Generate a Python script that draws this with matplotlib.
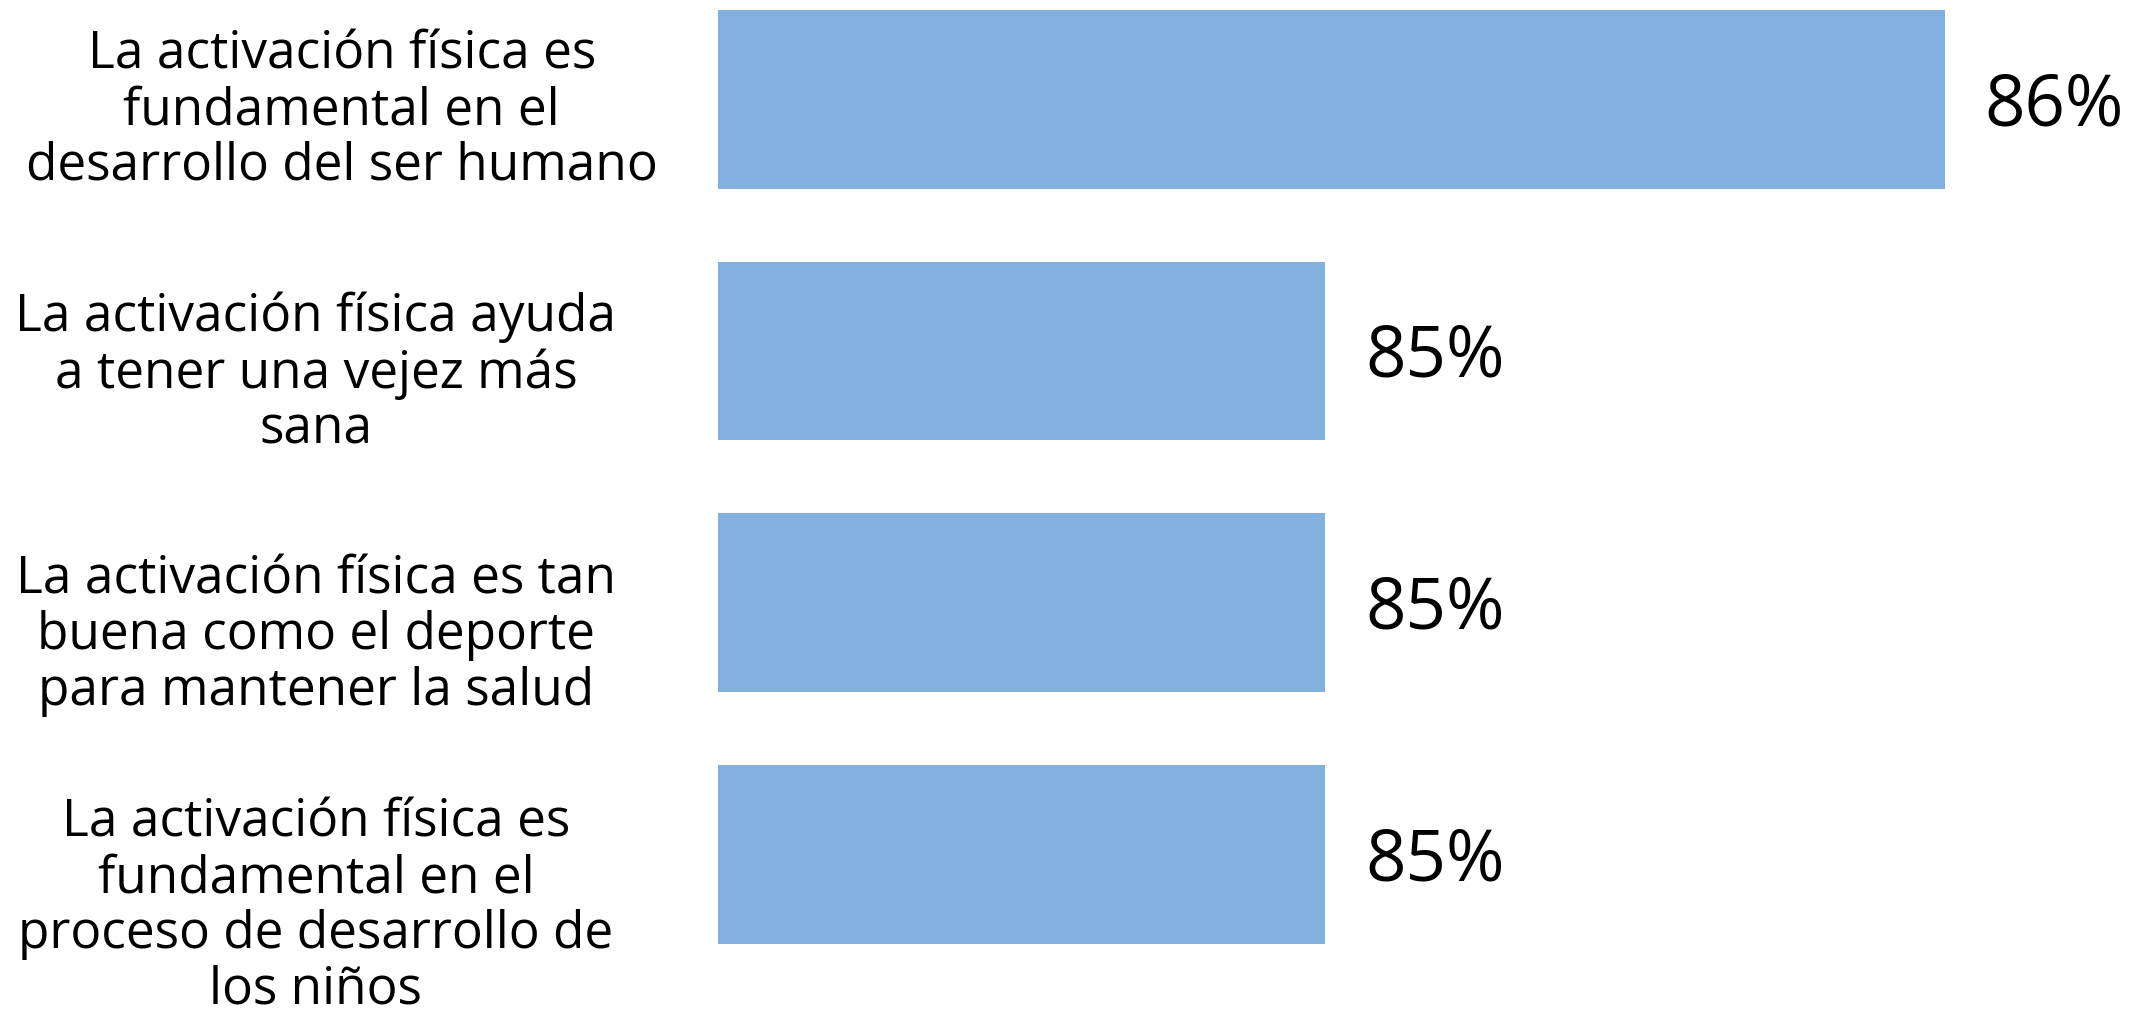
import matplotlib.pyplot as plt
from matplotlib.transforms import offset_copy

# Survey answers, top to bottom
statements = [
    "La activación física es\nfundamental en el\ndesarrollo del ser humano",
    "La activación física ayuda\na tener una vejez más\nsana",
    "La activación física es tan\nbuena como el deporte\npara mantener la salud",
    "La activación física es\nfundamental en el\nproceso de desarrollo de\nlos niños",
]
percent = [86, 85, 85, 85]

# where each statement block sits (figure fraction, measured from top)
label_x = [0.159, 0.147, 0.147, 0.147]
label_y = [0.109, 0.368, 0.626, 0.893]

plt.rcParams['font.family'] = ['Open Sans', 'DejaVu Sans']

fig = plt.figure(figsize=(21.49, 10.15), dpi=100)
ax = fig.add_axes([0.334, 0.0, 0.666, 1.0])

pos = list(range(len(percent)))
ax.barh(pos, [p - 84 for p in percent], left=84, height=0.71,
        color='#82b1df')

ax.set_xlim(84.02, 86.33)
ax.set_ylim(3.638, -0.395)
ax.axis('off')

# value labels just past the end of each bar
shifted = offset_copy(ax.transData, fig=fig, x=40, y=-7, units='dots')
for y, p in zip(pos, percent):
    ax.text(p, y, f"{p}%", transform=shifted, fontsize=51,
            va='center', ha='left', color='black')

# statement text in the left margin
for s, lx, ly in zip(statements, label_x, label_y):
    fig.text(lx, 1 - ly, s, fontsize=37, ha='center', va='center',
             multialignment='center', linespacing=1.12, color='black')

fig.savefig('out.png', dpi=100)
